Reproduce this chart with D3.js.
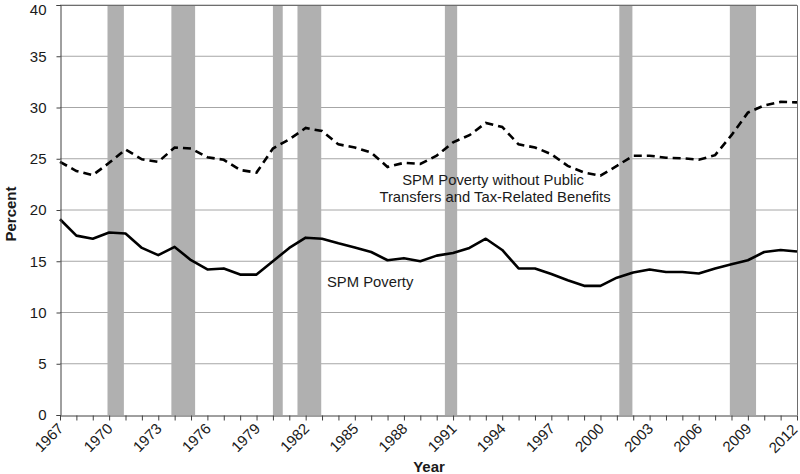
<!DOCTYPE html>
<html>
<head>
<meta charset="utf-8">
<script src="https://cdn.jsdelivr.net/npm/d3@7"></script>
<style>
  body { margin: 0; background: #fff; }
  svg { display: block; font-family: "Liberation Sans", Arial, sans-serif; }
</style>
</head>
<body>
<svg id="chart" width="800" height="474"></svg>
<script>
const years = d3.range(1967, 2013);
const spmPoverty = [19.1, 17.5, 17.2, 17.8, 17.7, 16.3, 15.6, 16.4, 15.1, 14.2,
  14.3, 13.7, 13.7, 15.0, 16.3, 17.3, 17.2, 16.75, 16.35, 15.9,
  15.1, 15.3, 15.0, 15.55, 15.8, 16.3, 17.2, 16.1, 14.3, 14.3,
  13.75, 13.15, 12.6, 12.6, 13.4, 13.9, 14.2, 13.95, 13.95, 13.8,
  14.3, 14.7, 15.1, 15.9, 16.1, 15.95];
const spmNoTransfers = [24.7, 23.8, 23.4, 24.6, 25.9, 24.95, 24.7, 26.1, 26.0, 25.15,
  24.9, 23.9, 23.65, 26.0, 26.9, 28.0, 27.7, 26.4, 26.1, 25.6,
  24.2, 24.6, 24.5, 25.3, 26.6, 27.3, 28.5, 28.1, 26.4, 26.1,
  25.45, 24.3, 23.65, 23.35, 24.3, 25.3, 25.3, 25.1, 25.05, 24.9,
  25.35, 27.3, 29.5, 30.2, 30.55, 30.5];
const recessionStart = [1969.9, 1973.8, 1980.0, 1981.5, 1990.5, 2001.15, 2007.9];
const recessionEnd   = [1970.9, 1975.25, 1980.6, 1982.95, 1991.25, 2001.95, 2009.5];
const yTicks = [0, 5, 10, 15, 20, 25, 30, 35, 40];
const xLabelYears = d3.range(1967, 2013, 3);

const svg = d3.select("#chart");
const mLeft = 60, mRight = 797, mTop = 5, mBottom = 415;
const x = d3.scaleLinear().domain([1967, 2012]).range([mLeft, mRight]);
const y = d3.scaleLinear().domain([0, 40]).range([mBottom, mTop]);

// gridlines
svg.append("g").selectAll("line").data(yTicks.filter(d => d > 0)).join("line")
  .attr("x1", mLeft).attr("x2", mRight)
  .attr("y1", d => y(d)).attr("y2", d => y(d))
  .attr("stroke", "#a6a6a6").attr("stroke-width", 1);

// recession bars
svg.append("g").selectAll("rect").data(recessionStart).join("rect")
  .attr("x", (d, i) => x(d))
  .attr("width", (d, i) => x(recessionEnd[i]) - x(d))
  .attr("y", mTop).attr("height", mBottom - mTop)
  .attr("fill", "#b0b0b0");

// frame top/right
svg.append("path")
  .attr("d", `M${mLeft},${mTop + 0.5}H${mRight + 0.5}V${mBottom}`)
  .attr("fill", "none").attr("stroke", "#6e6e6e").attr("stroke-width", 1);

// lines
const line = vals => d3.line().x((d, i) => x(years[i])).y(d => y(d))(vals);
svg.append("path").attr("d", line(spmNoTransfers))
  .attr("fill", "none").attr("stroke", "#000").attr("stroke-width", 2.6)
  .attr("stroke-dasharray", "8,5");
svg.append("path").attr("d", line(spmPoverty))
  .attr("fill", "none").attr("stroke", "#000").attr("stroke-width", 2.6)
  .attr("stroke-linejoin", "round");

// y axis
const yAxis = d3.axisLeft(y).tickValues(yTicks).tickSize(4).tickPadding(10);
const gy = svg.append("g").attr("transform", `translate(${mLeft + 0.5},0)`).call(yAxis);
gy.select(".domain").attr("stroke", "#404040");
gy.selectAll(".tick line").attr("stroke", "#404040");
gy.selectAll("text").attr("font-size", 15).attr("fill", "#1a1a1a")
  .attr("font-family", "Liberation Sans, Arial, sans-serif")
  .attr("dy", d => d === 40 ? "0.62em" : "0.32em");

// x axis
const xAxis = d3.axisBottom(x).tickValues(years).tickSize(5).tickSizeOuter(0)
  .tickFormat(d => xLabelYears.includes(d) ? String(d) : "");
const gx = svg.append("g").attr("transform", `translate(0,${mBottom + 0.5})`).call(xAxis);
gx.select(".domain").attr("stroke", "#404040");
gx.selectAll(".tick line").attr("stroke", "#404040");
gx.selectAll("text")
  .attr("font-size", 15).attr("fill", "#1a1a1a")
  .attr("font-family", "Liberation Sans, Arial, sans-serif")
  .attr("text-anchor", "end")
  .attr("dy", null).attr("y", null)
  .attr("transform", d => d === 2012 ? "translate(1,15) rotate(-45)" : "translate(4,14) rotate(-45)");

// axis titles
svg.append("text").attr("x", 429).attr("y", 472)
  .attr("text-anchor", "middle").attr("font-weight", "bold").attr("font-size", 15)
  .attr("fill", "#1a1a1a").text("Year");
svg.append("text").attr("transform", "translate(16,214) rotate(-90)")
  .attr("text-anchor", "middle").attr("font-weight", "bold").attr("font-size", 15)
  .attr("fill", "#1a1a1a").text("Percent");

// annotations
const ann = svg.append("g").attr("font-size", 14.8).attr("fill", "#1a1a1a");
ann.append("text").attr("x", 493).attr("y", 185).attr("text-anchor", "middle")
  .text("SPM Poverty without Public");
ann.append("text").attr("x", 495).attr("y", 202).attr("text-anchor", "middle")
  .text("Transfers and Tax-Related Benefits");
ann.append("text").attr("x", 327).attr("y", 287).text("SPM Poverty");
</script>
</body>
</html>
